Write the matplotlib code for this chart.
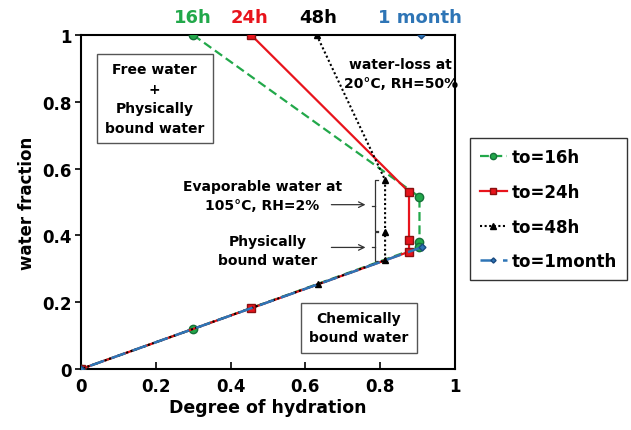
import numpy as np
import matplotlib
matplotlib.use("Agg")
import matplotlib.pyplot as plt

plt.rcParams['font.family'] = ['DejaVu Sans']
plt.rcParams['font.weight'] = 'bold'

# hydration degree / water fraction
# order: start of drying (top), evaporable, physically bound, chemically bound, chem. at start, origin
x_16h = [0.30, 0.905, 0.905, 0.905, 0.30, 0.0]
y_16h = [1.00, 0.515, 0.380, 0.365, 0.12, 0.0]
x_24h = [0.455, 0.877, 0.877, 0.877, 0.455, 0.0]
y_24h = [1.00, 0.530, 0.387, 0.351, 0.182, 0.0]
x_48h = [0.63, 0.813, 0.813, 0.813, 0.634, 0.0]
y_48h = [1.00, 0.566, 0.410, 0.326, 0.254, 0.0]
x_1m = [0.91, np.nan, 0.912, 0.0]
y_1m = [1.00, np.nan, 0.365, 0.0]

labels = ['to=16h', 'to=24h', 'to=48h', 'to=1month']
top_labels = ['16h', '24h', '48h', '1 month']
top_x = [0.30, 0.45, 0.634, 0.906]
ticks = [0, 0.2, 0.4, 0.6, 0.8, 1]
tick_labels = ['0', '0.2', '0.4', '0.6', '0.8', '1']

green = '#22a84a'
red = '#e8141c'
blue = '#2e75b6'

fig = plt.figure(figsize=(6.31, 4.31), dpi=100)
ax = fig.add_axes([0.1284, 0.1415, 0.5927, 0.775])

l1, = ax.plot(x_16h, y_16h, color=green, ls=(0, (4, 2)), lw=1.6, marker='o', ms=6,
              mfc=green, mec='#16703a', label=labels[0], zorder=3)
l2, = ax.plot(x_24h, y_24h, color=red, ls='-', lw=1.6, marker='s', ms=6,
              mfc=red, mec='#8a1010', label=labels[1], zorder=3)
l3, = ax.plot(x_48h, y_48h, color='black', ls=(0, (1, 1.2)), lw=1.5, marker='^', ms=5,
              label=labels[2], zorder=4)
l4, = ax.plot(x_1m, y_1m, color=blue, ls=(0, (6, 3)), lw=1.8, marker='D', ms=3.5,
              mfc=blue, mec='#1a4a80', label=labels[3], zorder=5)

ax.set_xlim(0, 1)
ax.set_ylim(0, 1)
ax.set_xticks(ticks)
ax.set_xticklabels(tick_labels)
ax.set_yticks(ticks)
ax.set_yticklabels(tick_labels)
ax.tick_params(axis='x', direction='in', length=5, width=1.2, labelsize=12, pad=6)
ax.tick_params(axis='y', direction='out', length=4, width=1.2, labelsize=12, pad=3)
for s in ax.spines.values():
    s.set_linewidth(1.5)
ax.set_xlabel('Degree of hydration', fontsize=12.5, fontweight='bold', labelpad=2)
ax.set_ylabel('water fraction', fontsize=12, fontweight='bold', labelpad=4)

# labels over the top axis
for lab, xx, c in zip(top_labels, top_x, [green, red, 'black', blue]):
    ax.text(xx, 1.055, lab, color=c, fontsize=13, fontweight='bold',
            ha='center', va='center', clip_on=False)

box = dict(boxstyle='square,pad=0.6', fc='white', ec='#555555', lw=1)
ax.text(0.197, 0.81, 'Free water\n+\nPhysically\nbound water', fontsize=10,
        ha='center', va='center', linespacing=1.5, bbox=box)
ax.text(0.742, 0.124, 'Chemically\nbound water', fontsize=10,
        ha='center', va='center', linespacing=1.5, bbox=box)
ax.text(0.855, 0.885, 'water-loss at\n20°C, RH=50%', fontsize=10,
        ha='center', va='center', linespacing=1.5)
ax.text(0.485, 0.52, 'Evaporable water at\n105°C, RH=2%', fontsize=10,
        ha='center', va='center', linespacing=1.5)
ax.text(0.50, 0.355, 'Physically\nbound water', fontsize=10,
        ha='center', va='center', linespacing=1.5)

# brackets next to the 48h column
bx = 0.787
for y0, y1 in [(0.566, 0.413), (0.41, 0.323)]:
    ax.plot([bx + 0.008, bx, bx, bx + 0.008], [y0, y0, y1, y1], color='#333333', lw=0.9)
    ax.plot([bx - 0.008, bx], [(y0 + y1) / 2] * 2, color='#333333', lw=0.9)
ax.annotate('', xy=(0.768, 0.492), xytext=(0.662, 0.492),
            arrowprops=dict(arrowstyle='->', color='#333333', lw=0.9))
ax.annotate('', xy=(0.768, 0.364), xytext=(0.662, 0.364),
            arrowprops=dict(arrowstyle='->', color='#333333', lw=0.9))

fig.legend(handles=[l1, l2, l3, l4], loc='upper left', bbox_to_anchor=(0.745, 0.677),
           handlelength=1.6, handletextpad=0.3, labelspacing=1.0, markerscale=0.75,
           borderpad=0.6, borderaxespad=0, frameon=True, fancybox=False,
           edgecolor='black', prop={'weight': 'bold', 'size': 12})

fig.savefig('out.png', dpi=100)
